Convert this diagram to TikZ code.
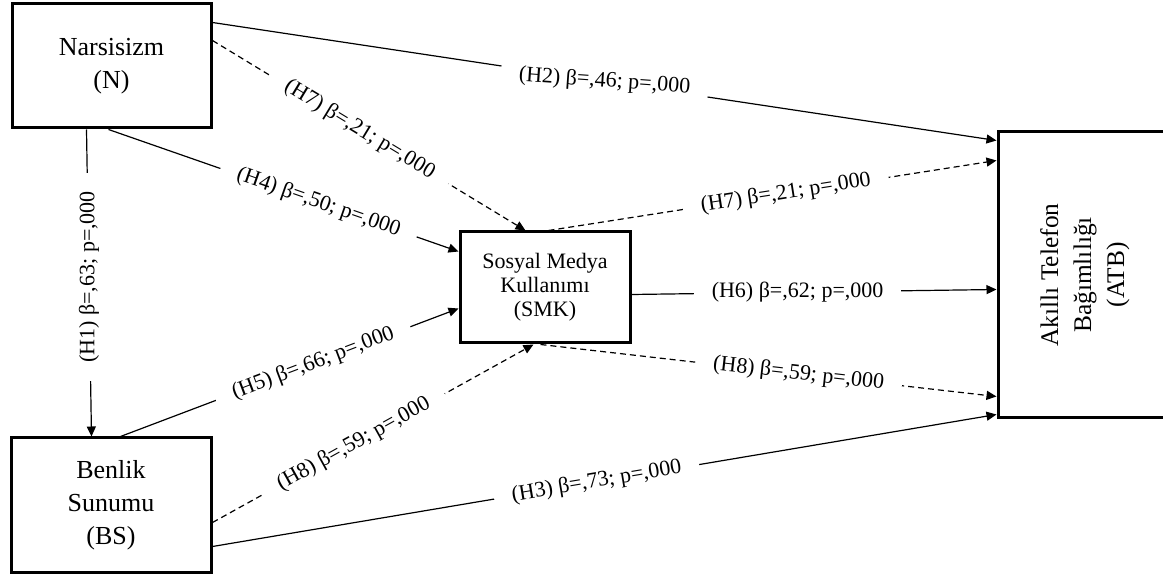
\documentclass[tikz,border=0pt]{standalone}
\usepackage{fontspec}
\setmainfont{Liberation Serif}
\usetikzlibrary{arrows.meta}

\begin{document}
\begin{tikzpicture}[x=0.5pt,y=-0.5pt]

\tikzstyle{construct}=[rectangle, draw, line width=1.5pt, align=center, inner sep=0pt, font=\fontsize{13}{16.5}\selectfont]
\tikzstyle{effect}=[line width=0.6pt, -{Triangle[length=5pt,width=4.5pt]}]
\tikzstyle{mediated}=[effect, dash pattern=on 3pt off 2pt]
\tikzstyle{coef}=[fill=white, inner xsep=9pt, inner ysep=1pt, font=\fontsize{11}{13}\selectfont]

\useasboundingbox (0,0) rectangle (1163,577);

\node[construct, minimum width=99.5pt, minimum height=62pt] (N) at (111.5,66) {Narsisizm\\(N)};
\node[construct, minimum width=100pt, minimum height=67pt] (BS) at (111,505) {Benlik\\Sunumu\\(BS)};
\node[construct, minimum width=85pt, minimum height=55.5pt, font=\fontsize{11}{12}\selectfont] (SMK) at (545,287.5) {Sosyal Medya\\Kullanımı\\(SMK)};
\node[construct, minimum width=87pt, minimum height=143pt] (ATB) at (1085,275) {};
\node[rotate=90, align=center, font=\fontsize{12.7}{16.5}\selectfont] (ATBtext) at (ATB.center) {Akıllı Telefon\\Bağımlılığı\\(ATB)};

% direct effects
\draw[effect] ([xshift=38pt]N.south west) -- node[coef, rotate=90, pos=0.48] (h1) {(H1) β=,63; p=,000} ([xshift=41pt]BS.north west);
\draw[effect] ([yshift=-10pt]N.north east) -- node[coef, rotate=-4, pos=0.5] (h2) {(H2) β=,46; p=,000} ([yshift=-5pt]ATB.north west);
\draw[effect] ([yshift=-55pt]BS.north east) -- node[coef, sloped, pos=0.49] (h3) {(H3) β=,73; p=,000} ([yshift=2.5pt]ATB.south west);
\draw[effect] ([xshift=49pt]N.south west) -- node[coef, sloped, pos=0.6] (h4) {(H4) β=,50; p=,000} ([yshift=-10.5pt]SMK.north west);
\draw[effect] ([xshift=55.5pt]BS.north west) -- node[coef, sloped, pos=0.57] (h5) {(H5) β=,66; p=,000} ([yshift=-39pt]SMK.north west);
\draw[effect] ([yshift=-32pt]SMK.north east) -- node[coef, pos=0.455] (h6) {(H6) β=,62; p=,000} ([yshift=-79.5pt]ATB.north west);

% mediation
\draw[mediated] ([yshift=-19pt]N.north east) -- node[coef, sloped, pos=0.47] (h7a) {(H7) β=,21; p=,000} ([xshift=33.5pt]SMK.north west);
\draw[mediated] ([xshift=45pt]SMK.north west) -- node[coef, sloped, pos=0.53] (h7b) {(H7) β=,21; p=,000} ([yshift=-15pt]ATB.north west);
\draw[mediated] ([yshift=-43pt]BS.north east) -- node[coef, sloped, pos=0.44] (h8a) {(H8) β=,59; p=,000} ([xshift=37.5pt]SMK.south west);
\draw[mediated] ([xshift=41pt]SMK.south west) -- node[coef, sloped, pos=0.566] (h8b) {(H8) β=,59; p=,000} ([yshift=11.5pt]ATB.south west);

\end{tikzpicture}
\end{document}
